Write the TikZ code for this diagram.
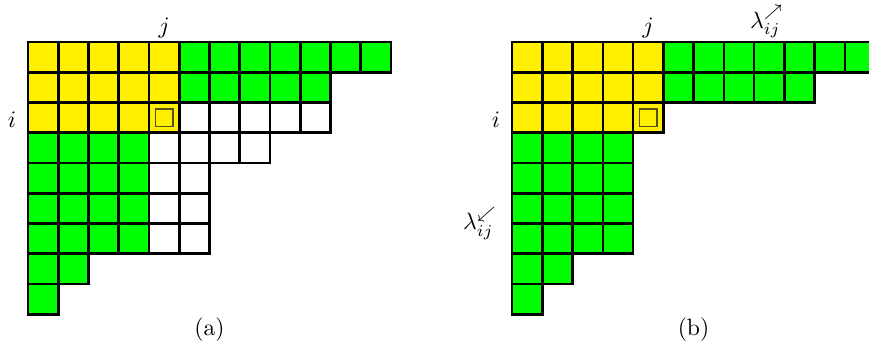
\documentclass[tikz,border=0pt]{standalone}
\usepackage{amssymb}
\definecolor{hookyellow}{RGB}{255,240,0}
\definecolor{armgreen}{RGB}{0,255,0}
\definecolor{boxline}{RGB}{85,80,30}
\begin{document}
\begin{tikzpicture}[x=0.45cm, y=0.45cm,
  cell/.style={draw=black, line width=1.1pt},
  cellbox/.style={draw=boxline, fill=hookyellow, line width=0.6pt,
    inner sep=0pt, minimum size=0.26cm}]
  \useasboundingbox (-0.926,1.388) rectangle (27.80,-10.25);

  % Two diagrams, side by side
  \foreach \ox/\rows/\tag in {0/{12,10,10,8,6,6,6,2,1}/a, 16/{12,10,5,4,4,4,4,2,1}/b} {
    % Coloured cells
    \fill[hookyellow] (\ox,0) rectangle ({\ox+5},-3);
    \fill[armgreen] ({\ox+5},0) rectangle ({\ox+12},-1);
    \fill[armgreen] ({\ox+5},-1) rectangle ({\ox+10},-2);
    \fill[armgreen] (\ox,-3) rectangle ({\ox+4},-7);
    \fill[armgreen] (\ox,-7) rectangle ({\ox+2},-8);
    \fill[armgreen] (\ox,-8) rectangle ({\ox+1},-9);

    % Cell outlines
    \foreach \len [count=\r] in \rows {
      \foreach \c in {1,...,\len}
        \draw[cell] ({\ox+\c-1},{1-\r}) rectangle ({\ox+\c},-\r);
    }

    % Marked cell
    \node[cellbox] (box\tag) at ({\ox+4.5},-2.5) {};

    % Labels
    \node[anchor=base] (j\tag) at ({\ox+4.5},0.27) {$j$};
    \node[anchor=base] (i\tag) at ({\ox-0.53},-2.84) {$i$};
    \node (cap\tag) at ({\ox+6},-9.52) {(\tag)};
  }

  % Arm and leg
  \node[anchor=base] (arm) at (24.43,0.46) {$\lambda_{ij}^{\nearrow}$};
  \node[anchor=base] (leg) at (14.94,-6.21) {$\lambda_{ij}^{\swarrow}$};
\end{tikzpicture}
\end{document}
